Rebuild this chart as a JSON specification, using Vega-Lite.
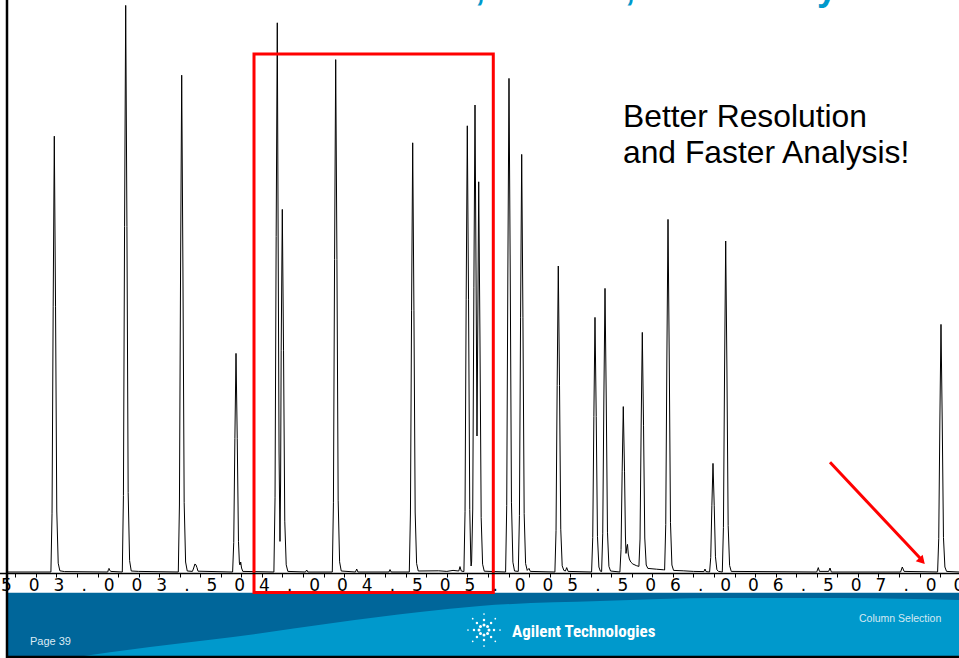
{
  "$schema": "https://vega.github.io/schema/vega-lite/v6.json",
  "width": 959,
  "height": 573,
  "autosize": {"type": "none"},
  "padding": {"left": 0, "top": 0, "right": 0, "bottom": 85},
  "background": "white",
  "config": {"view": {"stroke": null}, "axis": {"grid": false}},
  "resolve": {"axis": {"x": "independent", "y": "independent"}},
  "datasets": {
    "signal": [
      {"t": 2.5596, "v": 0}, {"t": 2.7733, "v": 0}, {"t": 2.7788, "v": 29.4}, {"t": 2.7843, "v": 132.9}, {"t": 2.7898, "v": 217.9}, {"t": 2.7958, "v": 132.9}, {"t": 2.8018, "v": 30.5}, {"t": 2.8088, "v": 4.4}, {"t": 2.8168, "v": 0.6}, {"t": 2.84, "v": 0.2},
      {"t": 3.05, "v": 0}, {"t": 3.053, "v": 1.2}, {"t": 3.056, "v": 1.8}, {"t": 3.059, "v": 1.0}, {"t": 3.064, "v": 0.3},
      {"t": 3.1207, "v": 0}, {"t": 3.1262, "v": 38.2}, {"t": 3.1317, "v": 172.8}, {"t": 3.1372, "v": 283.3}, {"t": 3.1432, "v": 172.8}, {"t": 3.1492, "v": 39.7}, {"t": 3.1562, "v": 5.7}, {"t": 3.1642, "v": 0.5}, {"t": 3.2, "v": 0.3},
      {"t": 3.3932, "v": 0}, {"t": 3.3987, "v": 33.5}, {"t": 3.4042, "v": 151.5}, {"t": 3.4097, "v": 248.4}, {"t": 3.4157, "v": 151.5}, {"t": 3.4217, "v": 34.8}, {"t": 3.4287, "v": 5.0}, {"t": 3.4367, "v": 0.5},
      {"t": 3.462, "v": 0.3}, {"t": 3.468, "v": 2.0}, {"t": 3.474, "v": 4.0}, {"t": 3.479, "v": 3.6}, {"t": 3.484, "v": 2.2}, {"t": 3.489, "v": 0.4},
      {"t": 3.6575, "v": 0}, {"t": 3.663, "v": 14.8}, {"t": 3.6685, "v": 66.7}, {"t": 3.674, "v": 109.3}, {"t": 3.68, "v": 66.7}, {"t": 3.686, "v": 15.3}, {"t": 3.6905, "v": 4.5}, {"t": 3.6935, "v": 3.5}, {"t": 3.6968, "v": 5.0}, {"t": 3.701, "v": 2.0}, {"t": 3.707, "v": 0.3},
      {"t": 3.8584, "v": 0}, {"t": 3.8639, "v": 37.1}, {"t": 3.8694, "v": 167.8}, {"t": 3.8749, "v": 274.6}, {"t": 3.879, "v": 168}, {"t": 3.8835, "v": 60}, {"t": 3.888, "v": 15.3}, {"t": 3.891, "v": 45}, {"t": 3.8938, "v": 110.6}, {"t": 3.8993, "v": 181.3}, {"t": 3.9053, "v": 110.6}, {"t": 3.9113, "v": 25.4}, {"t": 3.9183, "v": 3.6}, {"t": 3.9263, "v": 0.3},
      {"t": 4.012, "v": 0}, {"t": 4.018, "v": 1.0}, {"t": 4.024, "v": 0},
      {"t": 4.1426, "v": 0}, {"t": 4.1481, "v": 34.6}, {"t": 4.1536, "v": 156.3}, {"t": 4.1591, "v": 256.2}, {"t": 4.1651, "v": 156.3}, {"t": 4.1711, "v": 35.9}, {"t": 4.1781, "v": 5.1}, {"t": 4.1861, "v": 0.5},
      {"t": 4.2553, "v": 0}, {"t": 4.2613, "v": 1.5}, {"t": 4.2673, "v": 0},
      {"t": 4.418, "v": 0}, {"t": 4.4234, "v": 1.2}, {"t": 4.429, "v": 0},
      {"t": 4.5173, "v": 0}, {"t": 4.5228, "v": 29.0}, {"t": 4.5283, "v": 130.9}, {"t": 4.5338, "v": 214.6}, {"t": 4.5398, "v": 130.9}, {"t": 4.5458, "v": 30.0}, {"t": 4.5528, "v": 4.3}, {"t": 4.5608, "v": 0.5},
      {"t": 4.66, "v": 0.6}, {"t": 4.7, "v": 0.3}, {"t": 4.73, "v": 0.8}, {"t": 4.758, "v": 0.5}, {"t": 4.764, "v": 2.7}, {"t": 4.77, "v": 0.5},
      {"t": 4.783, "v": 0.2}, {"t": 4.7885, "v": 30.1}, {"t": 4.794, "v": 136.1}, {"t": 4.7995, "v": 223.1}, {"t": 4.8055, "v": 136.1}, {"t": 4.8115, "v": 31.2}, {"t": 4.8165, "v": 6}, {"t": 4.818, "v": 3}, {"t": 4.8205, "v": 5},
      {"t": 4.826, "v": 31.5}, {"t": 4.8315, "v": 142.4}, {"t": 4.837, "v": 233.5}, {"t": 4.842, "v": 150}, {"t": 4.8467, "v": 68}, {"t": 4.851, "v": 130}, {"t": 4.855, "v": 195.1}, {"t": 4.861, "v": 119}, {"t": 4.867, "v": 27.3}, {"t": 4.874, "v": 3.9}, {"t": 4.882, "v": 0.4},
      {"t": 4.9859, "v": 0}, {"t": 4.9914, "v": 33.3}, {"t": 4.9969, "v": 150.5}, {"t": 5.0024, "v": 246.8}, {"t": 5.0084, "v": 150.5}, {"t": 5.0144, "v": 34.6}, {"t": 5.0214, "v": 4.9}, {"t": 5.0294, "v": 0.5},
      {"t": 5.0477, "v": 0.3}, {"t": 5.0532, "v": 28.2}, {"t": 5.0587, "v": 127.4}, {"t": 5.0642, "v": 208.8}, {"t": 5.0702, "v": 127.4}, {"t": 5.0762, "v": 29.2}, {"t": 5.0832, "v": 4.2}, {"t": 5.0912, "v": 0.8}, {"t": 5.0998, "v": 1.8}, {"t": 5.106, "v": 0.3},
      {"t": 5.2258, "v": 0}, {"t": 5.2313, "v": 20.7}, {"t": 5.2368, "v": 93.3}, {"t": 5.2423, "v": 153}, {"t": 5.2483, "v": 93.3}, {"t": 5.2543, "v": 21.4}, {"t": 5.2613, "v": 3.1}, {"t": 5.2693, "v": 0.8}, {"t": 5.277, "v": 0.5}, {"t": 5.2832, "v": 2.2}, {"t": 5.29, "v": 0.3},
      {"t": 5.4044, "v": 0}, {"t": 5.4099, "v": 17.2}, {"t": 5.4154, "v": 77.7}, {"t": 5.4209, "v": 127.3}, {"t": 5.4269, "v": 77.7}, {"t": 5.4329, "v": 17.8}, {"t": 5.4399, "v": 2.5}, {"t": 5.447, "v": 0.4},
      {"t": 5.4531, "v": 0.2}, {"t": 5.4586, "v": 19.1}, {"t": 5.4641, "v": 86.5}, {"t": 5.4696, "v": 141.8}, {"t": 5.4756, "v": 86.5}, {"t": 5.4816, "v": 19.9}, {"t": 5.4886, "v": 2.8}, {"t": 5.4966, "v": 0.5},
      {"t": 5.5421, "v": 0}, {"t": 5.5476, "v": 11.2}, {"t": 5.5531, "v": 50.4}, {"t": 5.5586, "v": 82.7}, {"t": 5.5646, "v": 50.4}, {"t": 5.569, "v": 18}, {"t": 5.5718, "v": 9.3}, {"t": 5.576, "v": 12.5}, {"t": 5.579, "v": 13.8}, {"t": 5.583, "v": 9}, {"t": 5.588, "v": 6.5}, {"t": 5.595, "v": 5}, {"t": 5.605, "v": 4}, {"t": 5.622, "v": 3.2}, {"t": 5.6346, "v": 2.8},
      {"t": 5.6401, "v": 16.5}, {"t": 5.6456, "v": 74}, {"t": 5.6511, "v": 119.8}, {"t": 5.6571, "v": 73.1}, {"t": 5.6631, "v": 17}, {"t": 5.6701, "v": 3.5}, {"t": 5.6781, "v": 1.8}, {"t": 5.72, "v": 1.4}, {"t": 5.755, "v": 1.1},
      {"t": 5.7597, "v": 1.0}, {"t": 5.7652, "v": 23.8}, {"t": 5.7707, "v": 107.5}, {"t": 5.7762, "v": 176.3}, {"t": 5.7822, "v": 107.5}, {"t": 5.7882, "v": 24.7}, {"t": 5.7952, "v": 3.5}, {"t": 5.8032, "v": 0.8}, {"t": 5.85, "v": 0.6}, {"t": 5.9, "v": 0.3},
      {"t": 5.951, "v": 0.2}, {"t": 5.9562, "v": 1.5}, {"t": 5.961, "v": 0.2},
      {"t": 5.9786, "v": 0}, {"t": 5.9841, "v": 7.3}, {"t": 5.9896, "v": 33.1}, {"t": 5.9951, "v": 54.3}, {"t": 6.0011, "v": 33.1}, {"t": 6.0071, "v": 7.6}, {"t": 6.0141, "v": 1.1}, {"t": 6.0221, "v": 0.3},
      {"t": 6.0404, "v": 0}, {"t": 6.0459, "v": 22.3}, {"t": 6.0514, "v": 101.0}, {"t": 6.0569, "v": 165.5}, {"t": 6.0629, "v": 101.0}, {"t": 6.0689, "v": 23.2}, {"t": 6.0759, "v": 3.3}, {"t": 6.0839, "v": 0.3},
      {"t": 6.5, "v": 0}, {"t": 6.5075, "v": 2.2}, {"t": 6.513, "v": 0.3}, {"t": 6.558, "v": 0.3}, {"t": 6.5645, "v": 2.0}, {"t": 6.571, "v": 0},
      {"t": 6.908, "v": 0}, {"t": 6.9163, "v": 2.5}, {"t": 6.925, "v": 0.3},
      {"t": 7.0881, "v": 0}, {"t": 7.0936, "v": 16.7}, {"t": 7.0991, "v": 75.5}, {"t": 7.1046, "v": 123.8}, {"t": 7.1106, "v": 75.5}, {"t": 7.1166, "v": 17.3}, {"t": 7.1236, "v": 2.5}, {"t": 7.1316, "v": 0.3}, {"t": 7.1922, "v": 0}
    ],
    "swoosh": [
      {"t": 2.8662, "v": -43}, {"t": 3.2555, "v": -37.5}, {"t": 3.6594, "v": -32.5}, {"t": 4.146, "v": -25.5}, {"t": 4.5693, "v": -20}, {"t": 4.8613, "v": -17}, {"t": 5.4453, "v": -14.5}, {"t": 6.0292, "v": -13}, {"t": 6.6131, "v": -13}, {"t": 7.1922, "v": -14}
    ],
    "spark": [
      {"t": 4.9051, "v": -29, "ring": 1}, {"t": 4.898, "v": -30.77, "ring": 1}, {"t": 4.8808, "v": -31.5, "ring": 1}, {"t": 4.8636, "v": -30.77, "ring": 1}, {"t": 4.8565, "v": -29, "ring": 1}, {"t": 4.8636, "v": -27.23, "ring": 1}, {"t": 4.8808, "v": -26.5, "ring": 1}, {"t": 4.898, "v": -27.23, "ring": 1},
      {"t": 4.9295, "v": -29, "ring": 2}, {"t": 4.9152, "v": -32.54, "ring": 2}, {"t": 4.8808, "v": -34, "ring": 2}, {"t": 4.8464, "v": -32.54, "ring": 2}, {"t": 4.8321, "v": -29, "ring": 2}, {"t": 4.8464, "v": -25.46, "ring": 2}, {"t": 4.8808, "v": -24, "ring": 2}, {"t": 4.9152, "v": -25.46, "ring": 2},
      {"t": 4.9587, "v": -29, "ring": 3}, {"t": 4.9358, "v": -34.66, "ring": 3}, {"t": 4.8808, "v": -37, "ring": 3}, {"t": 4.8258, "v": -34.66, "ring": 3}, {"t": 4.8029, "v": -29, "ring": 3}, {"t": 4.8258, "v": -23.34, "ring": 3}, {"t": 4.8808, "v": -21, "ring": 3}, {"t": 4.9358, "v": -23.34, "ring": 3}
    ]
  },
  "layer": [
    {
      "data": {"values": [{}]},
      "mark": {"type": "rect", "color": "#00669A"},
      "encoding": {
        "x": {"datum": 2.5645, "type": "quantitative", "scale": {"domain": [2.5, 7.1922], "range": [-5.25, 959], "nice": false, "zero": false}, "axis": null},
        "x2": {"datum": 7.1922},
        "y": {"datum": -10.35, "type": "quantitative", "scale": {"domain": [-0.5, 286], "nice": false, "zero": false}, "axis": null},
        "y2": {"datum": -43}
      }
    },
    {
      "data": {"name": "swoosh"},
      "mark": {"type": "area", "color": "#0099CC", "interpolate": "monotone"},
      "encoding": {
        "x": {"field": "t", "type": "quantitative", "scale": {"domain": [2.5, 7.1922], "range": [-5.25, 959], "nice": false, "zero": false}, "axis": null},
        "y": {"field": "v", "type": "quantitative", "scale": {"domain": [-0.5, 286], "nice": false, "zero": false}, "axis": null},
        "y2": {"datum": -43}
      }
    },
    {
      "data": {"name": "spark"},
      "mark": {"type": "circle", "color": "white", "opacity": 1},
      "encoding": {
        "x": {"field": "t", "type": "quantitative", "scale": {"domain": [2.5, 7.1922], "range": [-5.25, 959], "nice": false, "zero": false}, "axis": null},
        "y": {"field": "v", "type": "quantitative", "scale": {"domain": [-0.5, 286], "nice": false, "zero": false}, "axis": null},
        "size": {"field": "ring", "type": "quantitative", "scale": {"domain": [1, 3], "range": [9, 3]}, "legend": null}
      }
    },
    {
      "data": {"values": [{}]},
      "mark": {"type": "text", "text": "Page 39", "font": "Liberation Sans", "fontSize": 11, "color": "#DCEBF4", "align": "left", "baseline": "alphabetic"},
      "encoding": {
        "x": {"datum": 2.6715, "type": "quantitative", "scale": {"domain": [2.5, 7.1922], "range": [-5.25, 959], "nice": false, "zero": false}, "axis": null},
        "y": {"datum": -36.25, "type": "quantitative", "scale": {"domain": [-0.5, 286], "nice": false, "zero": false}, "axis": null}
      }
    },
    {
      "data": {"values": [{}]},
      "mark": {"type": "text", "text": "Agilent Technologies", "font": "Liberation Sans Narrow, Roboto Condensed, Liberation Sans", "fontWeight": "bold", "fontSize": 17, "color": "white", "align": "left", "baseline": "alphabetic"},
      "encoding": {
        "x": {"datum": 5.017, "type": "quantitative", "scale": {"domain": [2.5, 7.1922], "range": [-5.25, 959], "nice": false, "zero": false}, "axis": null},
        "y": {"datum": -32.25, "type": "quantitative", "scale": {"domain": [-0.5, 286], "nice": false, "zero": false}, "axis": null}
      }
    },
    {
      "data": {"values": [{}]},
      "mark": {"type": "text", "text": "Column Selection", "font": "Liberation Sans", "fontSize": 10.5, "color": "#D5E9F3", "align": "left", "baseline": "alphabetic"},
      "encoding": {
        "x": {"datum": 6.7056, "type": "quantitative", "scale": {"domain": [2.5, 7.1922], "range": [-5.25, 959], "nice": false, "zero": false}, "axis": null},
        "y": {"datum": -24.75, "type": "quantitative", "scale": {"domain": [-0.5, 286], "nice": false, "zero": false}, "axis": null}
      }
    },
    {
      "data": {"name": "signal"},
      "mark": {"type": "line", "color": "black", "strokeWidth": 1},
      "encoding": {
        "x": {
          "field": "t", "type": "quantitative",
          "scale": {"domain": [2.5, 7.1922], "range": [-5.25, 959], "nice": false, "zero": false},
          "axis": {
            "orient": "bottom", "title": null,
            "values": [2.5, 2.6, 2.7, 2.8, 2.9, 3.0, 3.1, 3.2, 3.3, 3.4, 3.5, 3.6, 3.7, 3.8, 3.9, 4.0, 4.1, 4.2, 4.3, 4.4, 4.5, 4.6, 4.7, 4.8, 4.9, 5.0, 5.1, 5.2, 5.3, 5.4, 5.5, 5.6, 5.7, 5.8, 5.9, 6.0, 6.1, 6.2, 6.3, 6.4, 6.5, 6.6, 6.7, 6.8, 6.9, 7.0, 7.1],
            "labelExpr": "abs(round(datum.value * 2) - datum.value * 2) < 0.01 ? join(split(format(datum.value, '.2f'), ''), '\u2003') : ''",
            "domain": true, "domainColor": "black", "domainWidth": 1.5,
            "ticks": true, "tickColor": "black", "tickSize": 4, "tickWidth": 1,
            "labelFont": "DejaVu Sans", "labelFontSize": 17, "labelColor": "black",
            "labelPadding": 0, "labelOverlap": false, "labelBound": false, "labelFlush": false,
            "grid": false, "zindex": 1
          }
        },
        "y": {"field": "v", "type": "quantitative", "scale": {"domain": [-0.5, 286], "nice": false, "zero": false}, "axis": null}
      }
    },
    {
      "data": {"values": [{}]},
      "mark": {"type": "rect", "fillOpacity": 0, "stroke": "#FF0000", "strokeWidth": 3},
      "encoding": {
        "x": {"datum": 3.7616, "type": "quantitative", "scale": {"domain": [2.5, 7.1922], "range": [-5.25, 959], "nice": false, "zero": false}, "axis": null},
        "x2": {"datum": 4.926},
        "y": {"datum": 259, "type": "quantitative", "scale": {"domain": [-0.5, 286], "nice": false, "zero": false}, "axis": null},
        "y2": {"datum": -10.25}
      }
    },
    {
      "data": {"values": [{}]},
      "mark": {"type": "rule", "color": "#FF0000", "strokeWidth": 3},
      "encoding": {
        "x": {"datum": 6.5645, "type": "quantitative", "scale": {"domain": [2.5, 7.1922], "range": [-5.25, 959], "nice": false, "zero": false}, "axis": null},
        "x2": {"datum": 7.0024},
        "y": {"datum": 54.85, "type": "quantitative", "scale": {"domain": [-0.5, 286], "nice": false, "zero": false}, "axis": null},
        "y2": {"datum": 7}
      }
    },
    {
      "data": {"values": [{}]},
      "mark": {"type": "point", "shape": "triangle-up", "filled": true, "color": "#FF0000", "opacity": 1, "size": 90, "angle": 137},
      "encoding": {
        "x": {"datum": 7.0121, "type": "quantitative", "scale": {"domain": [2.5, 7.1922], "range": [-5.25, 959], "nice": false, "zero": false}, "axis": null},
        "y": {"datum": 5.5, "type": "quantitative", "scale": {"domain": [-0.5, 286], "nice": false, "zero": false}, "axis": null}
      }
    },
    {
      "data": {"values": [{}]},
      "mark": {"type": "text", "text": ["Better Resolution", "and Faster Analysis!"], "font": "Liberation Sans", "fontSize": 31.8, "lineHeight": 36.6, "color": "black", "align": "left", "baseline": "alphabetic"},
      "encoding": {
        "x": {"datum": 5.5572, "type": "quantitative", "scale": {"domain": [2.5, 7.1922], "range": [-5.25, 959], "nice": false, "zero": false}, "axis": null},
        "y": {"datum": 222.65, "type": "quantitative", "scale": {"domain": [-0.5, 286], "nice": false, "zero": false}, "axis": null}
      }
    },
    {
      "data": {"values": [{}]},
      "mark": {"type": "text", "text": "Better Resolution,", "font": "Liberation Sans", "fontWeight": "bold", "fontSize": 36, "color": "#0099CC", "align": "right", "baseline": "alphabetic"},
      "encoding": {
        "x": {"datum": 4.8856, "type": "quantitative", "scale": {"domain": [2.5, 7.1922], "range": [-5.25, 959], "nice": false, "zero": false}, "axis": null},
        "y": {"datum": 286, "type": "quantitative", "scale": {"domain": [-0.5, 286], "nice": false, "zero": false}, "axis": null}
      }
    },
    {
      "data": {"values": [{}]},
      "mark": {"type": "text", "text": "Faster,", "font": "Liberation Sans", "fontWeight": "bold", "fontSize": 36, "color": "#0099CC", "align": "right", "baseline": "alphabetic"},
      "encoding": {
        "x": {"datum": 5.6156, "type": "quantitative", "scale": {"domain": [2.5, 7.1922], "range": [-5.25, 959], "nice": false, "zero": false}, "axis": null},
        "y": {"datum": 286, "type": "quantitative", "scale": {"domain": [-0.5, 286], "nice": false, "zero": false}, "axis": null}
      }
    },
    {
      "data": {"values": [{}]},
      "mark": {"type": "text", "text": "Efficiency", "font": "Liberation Sans", "fontWeight": "bold", "fontSize": 36, "color": "#0099CC", "align": "right", "baseline": "alphabetic"},
      "encoding": {
        "x": {"datum": 6.5985, "type": "quantitative", "scale": {"domain": [2.5, 7.1922], "range": [-5.25, 959], "nice": false, "zero": false}, "axis": null},
        "y": {"datum": 286, "type": "quantitative", "scale": {"domain": [-0.5, 286], "nice": false, "zero": false}, "axis": null}
      }
    },
    {
      "data": {"values": [{}]},
      "mark": {"type": "rule", "color": "black", "strokeWidth": 2.5},
      "encoding": {
        "x": {"datum": 2.5596, "type": "quantitative", "scale": {"domain": [2.5, 7.1922], "range": [-5.25, 959], "nice": false, "zero": false}, "axis": null},
        "y": {"datum": 286, "type": "quantitative", "scale": {"domain": [-0.5, 286], "nice": false, "zero": false}, "axis": null},
        "y2": {"datum": -43}
      }
    },
    {
      "data": {"values": [{}]},
      "mark": {"type": "rule", "color": "black", "strokeWidth": 2.5},
      "encoding": {
        "x": {"datum": 2.5596, "type": "quantitative", "scale": {"domain": [2.5, 7.1922], "range": [-5.25, 959], "nice": false, "zero": false}, "axis": null},
        "x2": {"datum": 7.1922},
        "y": {"datum": -42.5, "type": "quantitative", "scale": {"domain": [-0.5, 286], "nice": false, "zero": false}, "axis": null}
      }
    }
  ]
}
